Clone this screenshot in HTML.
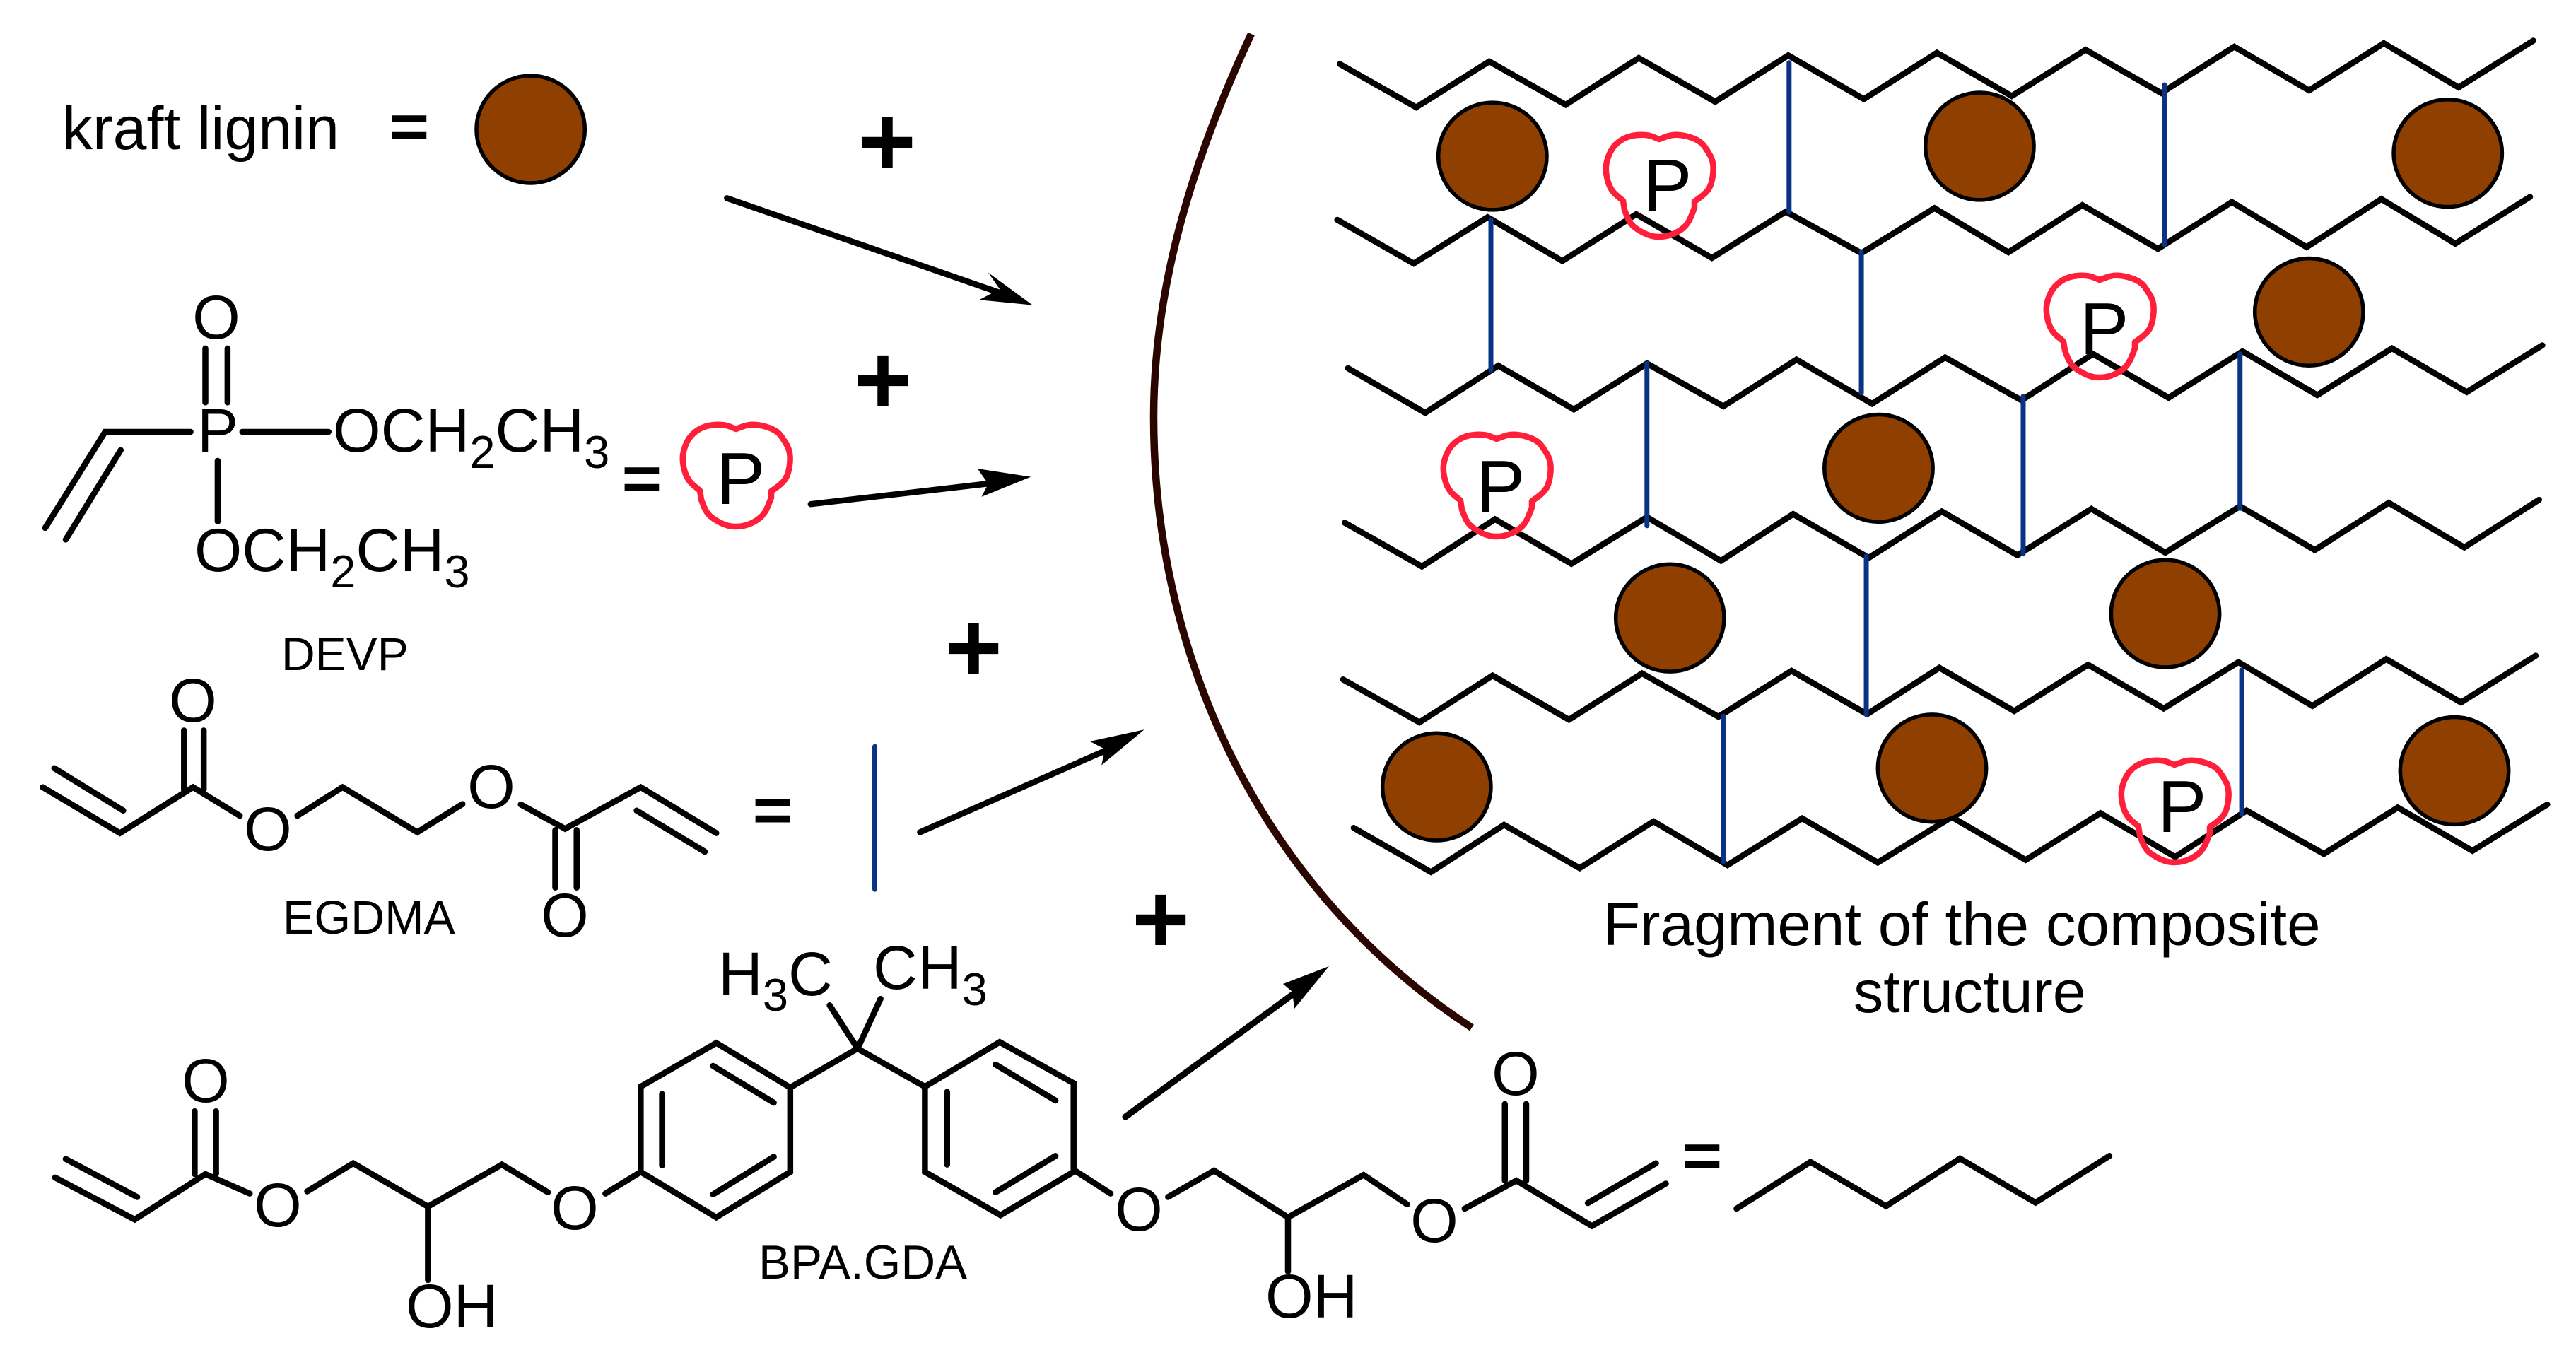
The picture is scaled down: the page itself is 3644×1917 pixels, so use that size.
<!DOCTYPE html>
<html>
<head>
<meta charset="utf-8">
<style>
html,body{margin:0;padding:0;background:#fff;width:3644px;height:1917px;overflow:hidden}
svg{display:block}
text{font-family:"Liberation Sans",sans-serif;fill:#000}
.k *{fill:none;stroke:#000;stroke-width:8.5;stroke-linecap:round;stroke-linejoin:miter;vector-effect:non-scaling-stroke}
.b *{fill:none;stroke:#0a3386;stroke-width:7;stroke-linecap:round;vector-effect:non-scaling-stroke}
.c *{fill:#8f3f00;stroke:#000;stroke-width:5.5;vector-effect:non-scaling-stroke}
.r *{fill:none;stroke:#ff1f3a;stroke-width:8.5;stroke-linejoin:round}
.l{font-size:87px}
.s{font-size:65px}
.n{font-size:67.5px}
.p{font-size:104px}
.pl{font-size:140px;font-weight:bold;text-anchor:middle}
.eq{font-size:94px;text-anchor:middle;stroke:#000;stroke-width:3}
.o{font-size:87px;text-anchor:middle}
</style>
</head>
<body>
<svg xmlns="http://www.w3.org/2000/svg" width="3644" height="1917" viewBox="0 0 3644 1917">
<defs>
<path id="blob" d="M0 0L9.5 -3.5Q19 -7 29 -6Q39 -5 49 -1Q59 3 64 10Q69 17 72.5 23.5Q76 30 76.5 38.5Q77 47 75 57Q73 67 68.5 72.5Q64 78 57 83L50 88L50 97L45.5 108.5Q41 120 33.5 126Q26 132 17.5 135Q9 138 -1 138Q-11 138 -21 133Q-31 128 -36.5 123Q-42 118 -45.5 109L-49 100L-51 87L-60 79.5Q-69 72 -72.5 59.5Q-76 47 -75 37.5Q-74 28 -69 18Q-64 8 -54 1.5Q-44 -5 -30.5 -6Q-17 -7 -8.5 -3.5Z"/>
</defs>
<rect width="3644" height="1917" fill="#fff"/>

<!-- brown arc -->
<path fill="none" stroke="#2b0500" stroke-width="10.5" d="M1770 48C1690 220 1632 400 1632 590C1632 950 1800 1270 2082 1454"/>

<!-- quadrant B lines -->
<g transform="translate(1822,0) scale(1.16199,0.6122)">
 <g class="k">
  <polyline points="63,148 156,248 245,142 338,242 427,134 520,235 609,128 701,229 790,122 881,222 971,115 1063,215 1152,108 1243,209 1334,100 1425,202 1516,94"/>
  <polyline points="60,508 153,609 243,502 334,603 424,495 516,596 606,489 698,585 787,481 877,583 967,474 1059,575 1149,467 1240,571 1331,460 1421,563 1512,455"/>
  <polyline points="73,851 167,954 256,845 348,946 437,840 530,939 619,831 711,933 800,826 893,925 980,818 1072,919 1162,812 1253,913 1344,805 1435,906 1527,798"/>
  <polyline points="69,1208 163,1309 252,1200 345,1303 437,1195 527,1296 615,1188 707,1289 796,1182 888,1283 978,1176 1068,1277 1159,1170 1250,1271 1340,1162 1432,1265 1523,1155"/>
 </g>
 <g class="b">
  <line x1="610" y1="145" x2="610" y2="490"/>
  <line x1="1067" y1="196" x2="1067" y2="565"/>
  <line x1="247" y1="508" x2="247" y2="855"/>
  <line x1="698" y1="582" x2="698" y2="908"/>
  <line x1="437" y1="840" x2="437" y2="1215"/>
  <line x1="895" y1="916" x2="895" y2="1280"/>
  <line x1="1159" y1="818" x2="1159" y2="1175"/>
  <line x1="704" y1="1285" x2="704" y2="1568"/>
 </g>
</g>
<!-- quadrant D lines -->
<g transform="translate(1822,957) scale(1.16199,0.6122)">
 <g class="k">
  <polyline points="67,7 160,106 249,-2 342,100 431,-7 524,93 613,-13 705,87 793,-20 884,80 974,-27 1066,74 1157,-33 1247,68 1337,-40 1428,60 1519,-48"/>
  <polyline points="80,350 174,452 263,343 355,443 445,335 535,436 626,328 718,430 808,325 898,424 989,316 1080,417 1167,310 1261,410 1351,303 1442,403 1533,296"/>
  <polyline points="546,1230 636,1122 728,1224 818,1114 910,1216 1000,1108"/>
  <polyline points="0,1250 92,1152 145,1220"/>
  <line x1="0" y1="1250" x2="0" y2="1375"/>
  <polyline points="215,1230 278,1165 370,1270 460,1172"/>
  <line x1="365" y1="1217" x2="448" y2="1125"/>
  <line x1="264" y1="988" x2="264" y2="1165"/>
  <line x1="290" y1="988" x2="290" y2="1165"/>
 </g>
 <g class="b">
  <line x1="530" y1="92" x2="530" y2="428"/>
  <line x1="704" y1="0" x2="704" y2="88"/>
  <line x1="1161" y1="-15" x2="1161" y2="318"/>
 </g>
 <g class="c">
  <ellipse cx="181" cy="255" rx="66" ry="124"/>
  <ellipse cx="784" cy="212" rx="66" ry="124"/>
  <ellipse cx="1420" cy="218" rx="66" ry="124"/>
 </g>
</g>
<!-- quadrant B circles -->
<g transform="translate(1822,0) scale(1.16199,0.6122)">
 <g class="c">
  <ellipse cx="249" cy="361" rx="66" ry="124"/>
  <ellipse cx="842" cy="338" rx="66" ry="124"/>
  <ellipse cx="1412" cy="354" rx="66" ry="124"/>
  <ellipse cx="1243" cy="721" rx="66" ry="124"/>
  <ellipse cx="719" cy="1082" rx="66" ry="124"/>
  <ellipse cx="465" cy="1428" rx="66" ry="124"/>
  <ellipse cx="1068" cy="1418" rx="66" ry="124"/>
 </g>
</g>

<!-- quadrant A -->
<g transform="scale(1.16199,0.6122)">
 <g class="c"><ellipse cx="646" cy="299" rx="66" ry="124"/></g>
 <g class="k">
  <polyline points="55,1220 128,998 232,998"/>
  <line x1="295" y1="998" x2="400" y2="998"/>
  <line x1="80" y1="1247" x2="147" y2="1040"/>
  <line x1="250" y1="805" x2="250" y2="930"/>
  <line x1="277" y1="805" x2="277" y2="930"/>
  <line x1="265" y1="1065" x2="265" y2="1205"/>
  <line x1="885" y1="458" x2="1215" y2="675"/>
  <line x1="987" y1="1165" x2="1215" y2="1115"/>
 </g>
 <polygon points="1257,705 1203,630 1217,668 1192,693" fill="#000"/>
 <polygon points="1255,1102 1190,1083 1203,1118 1195,1148" fill="#000"/>
</g>

<!-- blobs -->
<g class="r">
 <use href="#blob" transform="translate(1041,607)"/>
 <use href="#blob" transform="translate(2347,197)"/>
 <use href="#blob" transform="translate(2970,396)"/>
 <use href="#blob" transform="translate(2117,621)"/>
 <use href="#blob" transform="translate(3076,1082)"/>
</g>

<!-- quadrant C -->
<g transform="translate(0,957) scale(1.16199,0.6122)">
 <g class="k">
  <polyline points="52,256 146,362 235,256 292,322"/>
  <line x1="66" y1="212" x2="150" y2="310"/>
  <line x1="224" y1="125" x2="224" y2="262"/>
  <line x1="248" y1="125" x2="248" y2="262"/>
  <polyline points="362,322 417,256 508,360 563,295"/>
  <polyline points="634,296 688,352 780,256 872,362"/>
  <line x1="775" y1="310" x2="858" y2="405"/>
  <line x1="676" y1="355" x2="676" y2="488"/>
  <line x1="702" y1="355" x2="702" y2="488"/>
  <line x1="1120" y1="360" x2="1345" y2="172"/>

  <polyline points="67,1158 164,1255 250,1150 304,1195"/>
  <line x1="80" y1="1115" x2="167" y2="1203"/>
  <line x1="237" y1="1005" x2="237" y2="1150"/>
  <line x1="263" y1="1005" x2="263" y2="1150"/>
  <polyline points="374,1190 430,1125 521,1225 611,1128 667,1192"/>
  <line x1="521" y1="1225" x2="521" y2="1395"/>
  <line x1="737" y1="1195" x2="780" y2="1145"/>
  <polygon points="780,1145 780,948 872,847 962,950 962,1145 872,1250"/>
  <line x1="806" y1="965" x2="806" y2="1130"/>
  <line x1="868" y1="900" x2="942" y2="985"/>
  <line x1="868" y1="1197" x2="942" y2="1110"/>
  <polyline points="962,950 1044,860 1126,948"/>
  <line x1="1044" y1="860" x2="1010" y2="760"/>
  <line x1="1044" y1="860" x2="1072" y2="745"/>
  <polygon points="1126,948 1126,1145 1218,1245 1307,1145 1307,940 1217,845"/>
  <line x1="1153" y1="960" x2="1153" y2="1128"/>
  <line x1="1212" y1="897" x2="1285" y2="980"/>
  <line x1="1212" y1="1192" x2="1285" y2="1108"/>
  <line x1="1307" y1="1140" x2="1352" y2="1195"/>
  <polyline points="1422,1203 1478,1142 1568,1250"/>
 </g>
 <g class="b"><line x1="1065" y1="162" x2="1065" y2="492"/></g>
 <polygon points="1393,123 1327,150 1345,168 1341,205" fill="#000"/>
</g>

<!-- 4th arrow -->
<line x1="1592" y1="1580" x2="1838" y2="1400" stroke="#000" stroke-width="9" stroke-linecap="round"/>
<polygon points="1880,1367 1815,1392 1828,1403 1831,1427" fill="#000"/>

<!-- text -->
<text x="88" y="211" style="font-size:86px">kraft lignin</text>
<text class="eq" x="579" y="211">=</text>
<text class="eq" x="908" y="709">=</text>
<text class="eq" x="1093" y="1178">=</text>
<text class="eq" x="2408" y="1667">=</text>
<text class="pl" x="1255" y="248">+</text>
<text class="pl" x="1249" y="585">+</text>
<text class="pl" x="1377" y="964">+</text>
<text class="pl" x="1642" y="1348">+</text>

<text class="p" x="1013" y="713">P</text>
<text class="p" x="2324" y="298">P</text>
<text class="p" x="2942" y="501">P</text>
<text class="p" x="2088" y="724">P</text>
<text class="p" x="3052" y="1177">P</text>

<text class="o" x="306" y="479">O</text>
<text class="l" x="279" y="639">P</text>
<text class="l" x="471" y="639">OCH<tspan class="s" dy="23">2</tspan><tspan dy="-23">CH</tspan><tspan class="s" dy="23">3</tspan></text>
<text class="l" x="275" y="808" style="font-size:86.5px">OCH<tspan class="s" dy="23">2</tspan><tspan dy="-23">CH</tspan><tspan class="s" dy="23">3</tspan></text>
<text x="398" y="948" style="font-size:66px">DEVP</text>

<text class="o" x="273" y="1021">O</text>
<text class="o" x="379" y="1203">O</text>
<text class="o" x="695" y="1143">O</text>
<text class="o" x="799" y="1325">O</text>
<text x="400" y="1321" style="font-size:66.5px">EGDMA</text>

<text class="o" x="291" y="1559">O</text>
<text class="o" x="393" y="1735">O</text>
<text class="o" x="813" y="1739">O</text>
<text class="o" x="1611" y="1741">O</text>
<text class="o" x="2029" y="1757">O</text>
<text class="o" x="2144" y="1549">O</text>
<text class="l" x="574" y="1878">OH</text>
<text class="l" x="1790" y="1864">OH</text>
<text class="l" x="1016" y="1408">H<tspan class="s" dy="22">3</tspan><tspan dy="-22">C</tspan></text>
<text class="l" x="1235" y="1399">CH<tspan class="s" dy="23">3</tspan></text>
<text class="n" x="1073" y="1809">BPA.GDA</text>

<text x="2268" y="1337" style="font-size:85.3px">Fragment of the composite</text>
<text x="2622" y="1432" style="font-size:84.5px">structure</text>
</svg>
</body>
</html>
